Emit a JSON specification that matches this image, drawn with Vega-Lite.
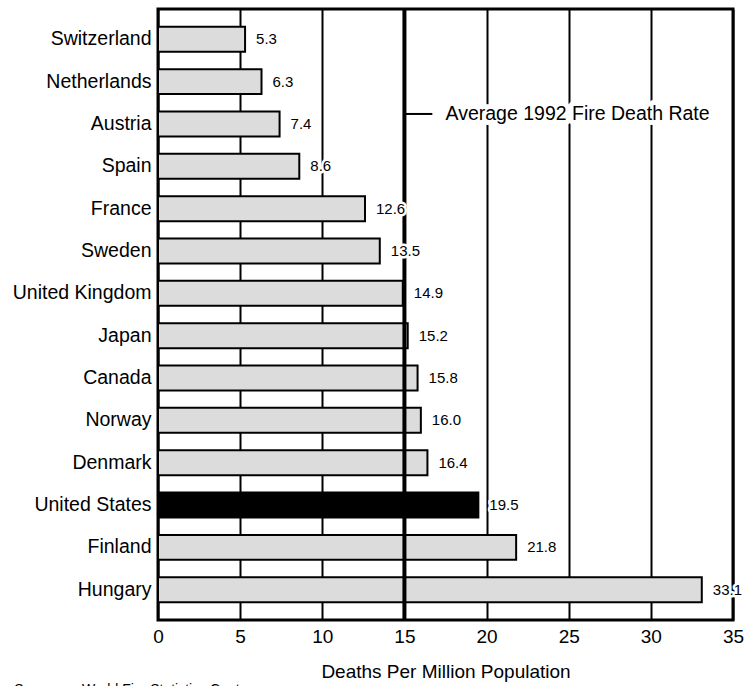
{
  "$schema": "https://vega.github.io/schema/vega-lite/v6.json",
  "width": 575,
  "height": 611,
  "autosize": {"type": "none"},
  "padding": {"left": 158, "top": 9, "right": 11, "bottom": 66},
  "background": "white",
  "title": {
    "text": "Source:\u00a0\u00a0\u00a0\u00a0\u00a0World Fire Statistics Centre",
    "orient": "bottom",
    "anchor": "start",
    "frame": "bounds",
    "font": "Liberation Sans, Arial, sans-serif",
    "fontSize": 14,
    "fontWeight": "normal",
    "color": "black",
    "offset": 0,
    "dy": 2,
    "dx": 2
  },
  "config": {
    "view": {"stroke": "black", "strokeWidth": 3},
    "font": "Liberation Sans, Arial, sans-serif",
    "axis": {
      "labelFont": "Liberation Sans, Arial, sans-serif",
      "titleFont": "Liberation Sans, Arial, sans-serif",
      "labelColor": "black",
      "titleColor": "black"
    }
  },
  "data": {
    "values": [
      {"country": "Switzerland", "rate": 5.3},
      {"country": "Netherlands", "rate": 6.3},
      {"country": "Austria", "rate": 7.4},
      {"country": "Spain", "rate": 8.6},
      {"country": "France", "rate": 12.6},
      {"country": "Sweden", "rate": 13.5},
      {"country": "United Kingdom", "rate": 14.9},
      {"country": "Japan", "rate": 15.2},
      {"country": "Canada", "rate": 15.8},
      {"country": "Norway", "rate": 16.0},
      {"country": "Denmark", "rate": 16.4},
      {"country": "United States", "rate": 19.5},
      {"country": "Finland", "rate": 21.8},
      {"country": "Hungary", "rate": 33.1}
    ]
  },
  "layer": [
    {
      "mark": {"type": "bar", "stroke": "black", "strokeWidth": 2},
      "encoding": {
        "y": {
          "field": "country",
          "type": "nominal",
          "sort": null,
          "scale": {"paddingInner": 0.41, "paddingOuter": 0.42},
          "axis": {
            "title": null,
            "domain": false,
            "ticks": false,
            "labelFontSize": 19.5,
            "labelPadding": 7,
            "labelColor": "black"
          }
        },
        "x": {
          "field": "rate",
          "type": "quantitative",
          "scale": {"domain": [0, 35], "nice": false, "zero": true},
          "axis": {
            "values": [0, 5, 10, 15, 20, 25, 30, 35],
            "grid": true,
            "gridColor": "black",
            "gridWidth": 2,
            "gridOpacity": 1,
            "domain": false,
            "ticks": false,
            "labelFontSize": 19,
            "labelPadding": 7,
            "labelFlush": false,
            "title": "Deaths Per Million Population",
            "titleFontSize": 19,
            "titleFontWeight": "normal",
            "titlePadding": 16
          }
        },
        "fill": {
          "condition": {"test": "datum.country === 'United States'", "value": "black"},
          "value": "#dcdcdc"
        }
      }
    },
    {
      "data": {"values": [{"avg": 15}]},
      "mark": {"type": "rule", "color": "black", "strokeWidth": 4},
      "encoding": {"x": {"field": "avg", "type": "quantitative"}}
    },
    {
      "data": {"values": [{"country": "Austria", "from": 15, "to": 16.7}]},
      "mark": {"type": "rule", "color": "black", "strokeWidth": 2, "yOffset": -10},
      "encoding": {
        "y": {"field": "country", "type": "nominal", "sort": null},
        "x": {"field": "from", "type": "quantitative"},
        "x2": {"field": "to"}
      }
    },
    {
      "data": {"values": [{"country": "Austria", "lx": 17.5, "label": "Average 1992 Fire Death Rate"}]},
      "mark": {"type": "text", "align": "left", "baseline": "middle", "fontSize": 19.5, "yOffset": -10, "stroke": "white", "strokeWidth": 10, "fill": "white", "strokeJoin": "round"},
      "encoding": {
        "y": {"field": "country", "type": "nominal", "sort": null},
        "x": {"field": "lx", "type": "quantitative"},
        "text": {"field": "label"}
      }
    },
    {
      "data": {"values": [{"country": "Austria", "lx": 17.5, "label": "Average 1992 Fire Death Rate"}]},
      "mark": {"type": "text", "align": "left", "baseline": "middle", "fontSize": 19.5, "yOffset": -10, "fill": "black"},
      "encoding": {
        "y": {"field": "country", "type": "nominal", "sort": null},
        "x": {"field": "lx", "type": "quantitative"},
        "text": {"field": "label"}
      }
    },
    {
      "mark": {"type": "text", "align": "left", "baseline": "middle", "dx": 11, "fontSize": 15, "stroke": "white", "strokeWidth": 5, "fill": "white", "strokeJoin": "round"},
      "encoding": {
        "y": {"field": "country", "type": "nominal", "sort": null},
        "x": {"field": "rate", "type": "quantitative"},
        "text": {"field": "rate", "type": "quantitative", "format": ".1f"}
      }
    },
    {
      "mark": {"type": "text", "align": "left", "baseline": "middle", "dx": 11, "fontSize": 15, "fill": "black"},
      "encoding": {
        "y": {"field": "country", "type": "nominal", "sort": null},
        "x": {"field": "rate", "type": "quantitative"},
        "text": {"field": "rate", "type": "quantitative", "format": ".1f"}
      }
    }
  ]
}
